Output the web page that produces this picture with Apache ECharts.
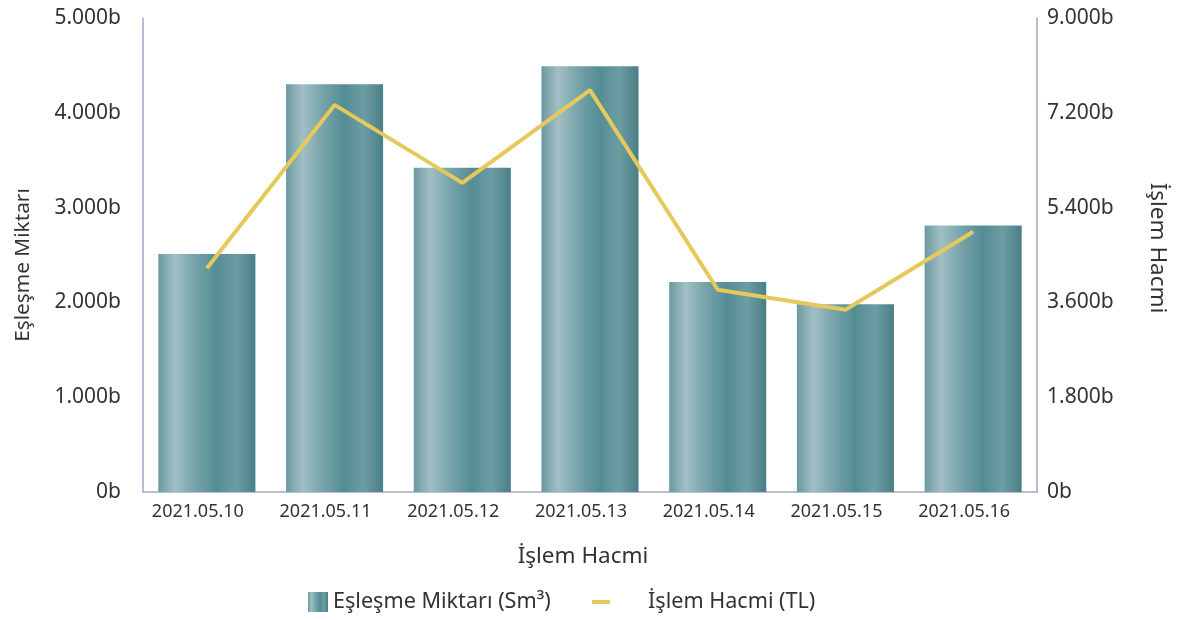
<!DOCTYPE html>
<html>
<head>
<meta charset="utf-8">
<script src="https://cdn.jsdelivr.net/npm/echarts@6/dist/echarts.min.js"></script>
<style>html,body{margin:0;padding:0;background:#fff}#c{width:1177px;height:620px}</style>
</head>
<body>
<div id="c"></div>
<script>
const categories = ['2021.05.10','2021.05.11','2021.05.12','2021.05.13','2021.05.14','2021.05.15','2021.05.16'];
const eslesmeMiktari = [2510000, 4300000, 3420000, 4490000, 2215000, 1980000, 2810000];
const islemHacmi = [4250000, 7350000, 5870000, 7630000, 3840000, 3460000, 4940000];
const leftTicks = {min: 0, max: 5000000, interval: 1000000};
const rightTicks = {min: 0, max: 9000000, interval: 1800000};

function fmt(v){
  if (v === 0) return '0b';
  const k = Math.round(v / 1000);
  const s = String(k).replace(/\B(?=(\d{3})+(?!\d))/g, '.');
  return s + 'b';
}
const FONT = 'Noto Sans';
const axisColor = '#a6a6c6';
const barGrad = new echarts.graphic.LinearGradient(0, 0, 1, 0, [
  {offset: 0, color: '#6b99a0'},
  {offset: 0.17, color: '#a1bfc4'},
  {offset: 0.36, color: '#7aa5ab'},
  {offset: 0.6, color: '#548d94'},
  {offset: 0.8, color: '#6c9da3'},
  {offset: 1, color: '#4a7f86'}
]);
const chart = echarts.init(document.getElementById('c'));
chart.setOption({
  animation: false,
  textStyle: {fontFamily: FONT},
  grid: {left: 143, right: 137, top: 18, bottom: 128, containLabel: false},
  legend: [{
    data: ['Eşleşme Miktarı (Sm³)'],
    left: 303, top: 586,
    itemWidth: 20, itemHeight: 20,
    icon: 'rect',
    textStyle: {fontFamily: FONT, fontSize: 21.6, color: '#333'}
  }, {
    data: ['İşlem Hacmi (TL)'],
    left: 587, top: 586,
    itemWidth: 18, itemHeight: 4,
    icon: 'rect',
    textStyle: {fontFamily: FONT, fontSize: 21.6, color: '#333', padding: [0,0,0,33]}
  }],
  xAxis: {
    type: 'category',
    data: categories,
    name: 'İşlem Hacmi',
    nameLocation: 'middle',
    nameGap: 53,
    nameTextStyle: {fontFamily: FONT, fontSize: 22.5, color: '#333', padding: [0,14,0,0]},
    axisLine: {lineStyle: {color: axisColor, width: 1.5}},
    axisTick: {show: false},
    axisLabel: {fontFamily: FONT, fontSize: 18, color: '#333', margin: 11, padding: [0,18,0,0]}
  },
  yAxis: [{
    type: 'value',
    min: leftTicks.min, max: leftTicks.max, interval: leftTicks.interval,
    name: 'Eşleşme Miktarı',
    nameLocation: 'middle',
    nameGap: 109,
    nameRotate: 90,
    nameTextStyle: {fontFamily: FONT, fontSize: 20.8, color: '#333', padding: [0,20,0,0]},
    axisLine: {show: true, lineStyle: {color: axisColor, width: 1.5}},
    axisTick: {show: false},
    splitLine: {show: false},
    axisLabel: {fontFamily: FONT, fontSize: 21, color: '#333', margin: 22, formatter: fmt}
  }, {
    type: 'value',
    min: rightTicks.min, max: rightTicks.max, interval: rightTicks.interval,
    name: 'İşlem Hacmi',
    nameLocation: 'middle',
    nameGap: 109,
    nameRotate: -90,
    nameTextStyle: {fontFamily: FONT, fontSize: 22.5, color: '#333', padding: [0,14,0,0]},
    axisLine: {show: true, lineStyle: {color: axisColor, width: 1.5}},
    axisTick: {show: false},
    splitLine: {show: false},
    axisLabel: {fontFamily: FONT, fontSize: 21, color: '#333', margin: 10, formatter: fmt}
  }],
  series: [{
    name: 'Eşleşme Miktarı (Sm³)',
    type: 'bar',
    data: eslesmeMiktari,
    barWidth: '76%',
    yAxisIndex: 0,
    itemStyle: {color: barGrad}
  }, {
    name: 'İşlem Hacmi (TL)',
    type: 'line',
    data: islemHacmi,
    yAxisIndex: 1,
    showSymbol: false,
    symbol: 'none',
    itemStyle: {color: '#e6c95c'},
    lineStyle: {color: '#e6c95c', width: 4}
  }]
});
</script>
</body>
</html>
